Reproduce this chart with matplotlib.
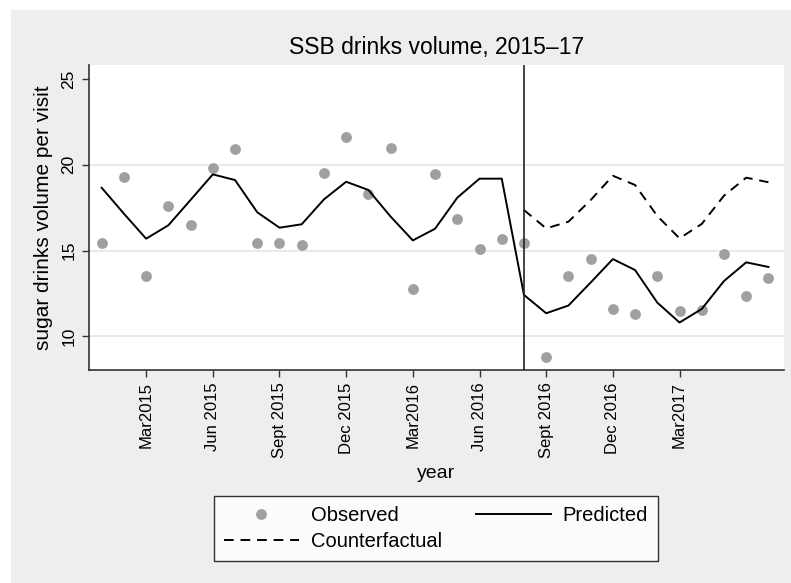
import numpy as np
import pandas as pd
import matplotlib
matplotlib.use('Agg')
import matplotlib.pyplot as plt
from matplotlib.patches import Rectangle

plt.rcParams['font.family'] = ['Liberation Sans', 'DejaVu Sans']

# Monthly data, Jan 2015 - Jul 2017
months = pd.period_range('2015-01', '2017-07', freq='M')

observed = [15.44, 19.27, 13.53, 17.60, 16.49, 19.79, 20.94, 15.44, 15.44, 15.32,
            19.50, 21.62, 18.29, 20.98, 12.77, 19.46, 16.82, 15.09, 15.69, 15.42,
            8.79, 13.53, 14.52, 11.59, 11.28, 13.53, 11.47, 11.55, 14.78, 12.37,
            13.38]

predicted = [18.66, 17.15, 15.69, 16.47, 17.95, 19.44, 19.11, 17.23, 16.33, 16.53,
             17.98, 19.01, 18.53, 16.98, 15.59, 16.27, 18.08, 19.19, 19.19, 12.41,
             11.34, 11.79, 13.13, 14.50, 13.86, 11.96, 10.80, 11.59, 13.22, 14.31,
             14.04]

# Counterfactual starts at the intervention month
intervention = '2016-08'
counterfactual = [17.36, 16.29, 16.68, 17.94, 19.36, 18.82, 17.01, 15.71, 16.55,
                  18.20, 19.25, 18.98]

tick_months = ['2015-03', '2015-06', '2015-09', '2015-12', '2016-03', '2016-06',
               '2016-09', '2016-12', '2017-03']
tick_labels = ['Mar2015', 'Jun 2015', 'Sept 2015', 'Dec 2015', 'Mar2016', 'Jun 2016',
               'Sept 2016', 'Dec 2016', 'Mar2017']

x = np.arange(len(months))
month_str = [str(m) for m in months]
start = month_str.index(intervention)
x_cf = x[start:start + len(counterfactual)]

fig = plt.figure(figsize=(7.91, 5.83), dpi=100, facecolor='white')
# gray outer background (Stata style)
fig.patches.append(Rectangle((11 / 791, 0), 1, 1 - 10 / 583, transform=fig.transFigure,
                             facecolor='#eeeeee', edgecolor='none', zorder=-10))

ax = fig.add_axes([89 / 791, 1 - 370 / 583, (784 - 89) / 791, (370 - 65) / 583])
ax.set_facecolor('white')

for yv in [10, 15, 20]:
    ax.axhline(yv, color='#e3e3e3', lw=1.1, zorder=0)

ax.plot(x, observed, 'o', color='#a0a0a0', markersize=7.8, markeredgewidth=0,
        label='Observed', zorder=2)
ax.plot(x_cf, counterfactual, color='black', lw=1.4, ls=(0, (5, 3.5)),
        label='Counterfactual', zorder=3)
ax.plot(x, predicted, color='black', lw=1.4, label='Predicted', zorder=3)
ax.axvline(start, color='#222222', lw=1.2, zorder=4)

ax.set_xlim(-0.57, 30.7)
ax.set_ylim(8.03, 25.82)
ax.set_yticks([10, 15, 20, 25])
ax.set_yticklabels(['10', '15', '20', '25'], rotation=90, va='center', fontsize=12.5)
ax.set_xticks([month_str.index(m) for m in tick_months])
ax.set_xticklabels(tick_labels, rotation=90, fontsize=12)
ax.tick_params(direction='out', length=5, width=1, color='#333333', pad=4)

for s in ['top', 'right']:
    ax.spines[s].set_visible(False)
for s in ['left', 'bottom']:
    ax.spines[s].set_color('#333333')
    ax.spines[s].set_linewidth(1.2)

ax.set_title('SSB drinks volume, 2015\u201317', fontsize=16.5, pad=8)
ax.set_xlabel('year', fontsize=14, labelpad=5)
ax.set_ylabel('sugar drinks volume per visit', fontsize=15, labelpad=6)

handles, labels = ax.get_legend_handles_labels()
leg = fig.legend(handles, labels, ncol=2, loc='upper center',
                 bbox_to_anchor=(436 / 791, 1 - 496 / 583), fontsize=14.5,
                 frameon=True, fancybox=False, edgecolor='black', facecolor='white',
                 handlelength=3.7, handletextpad=0.6, columnspacing=1.7,
                 labelspacing=0.35, borderpad=0.5, borderaxespad=0, numpoints=1)
leg.get_frame().set_linewidth(1.0)

fig.savefig('out.png', dpi=100, facecolor=fig.get_facecolor())
